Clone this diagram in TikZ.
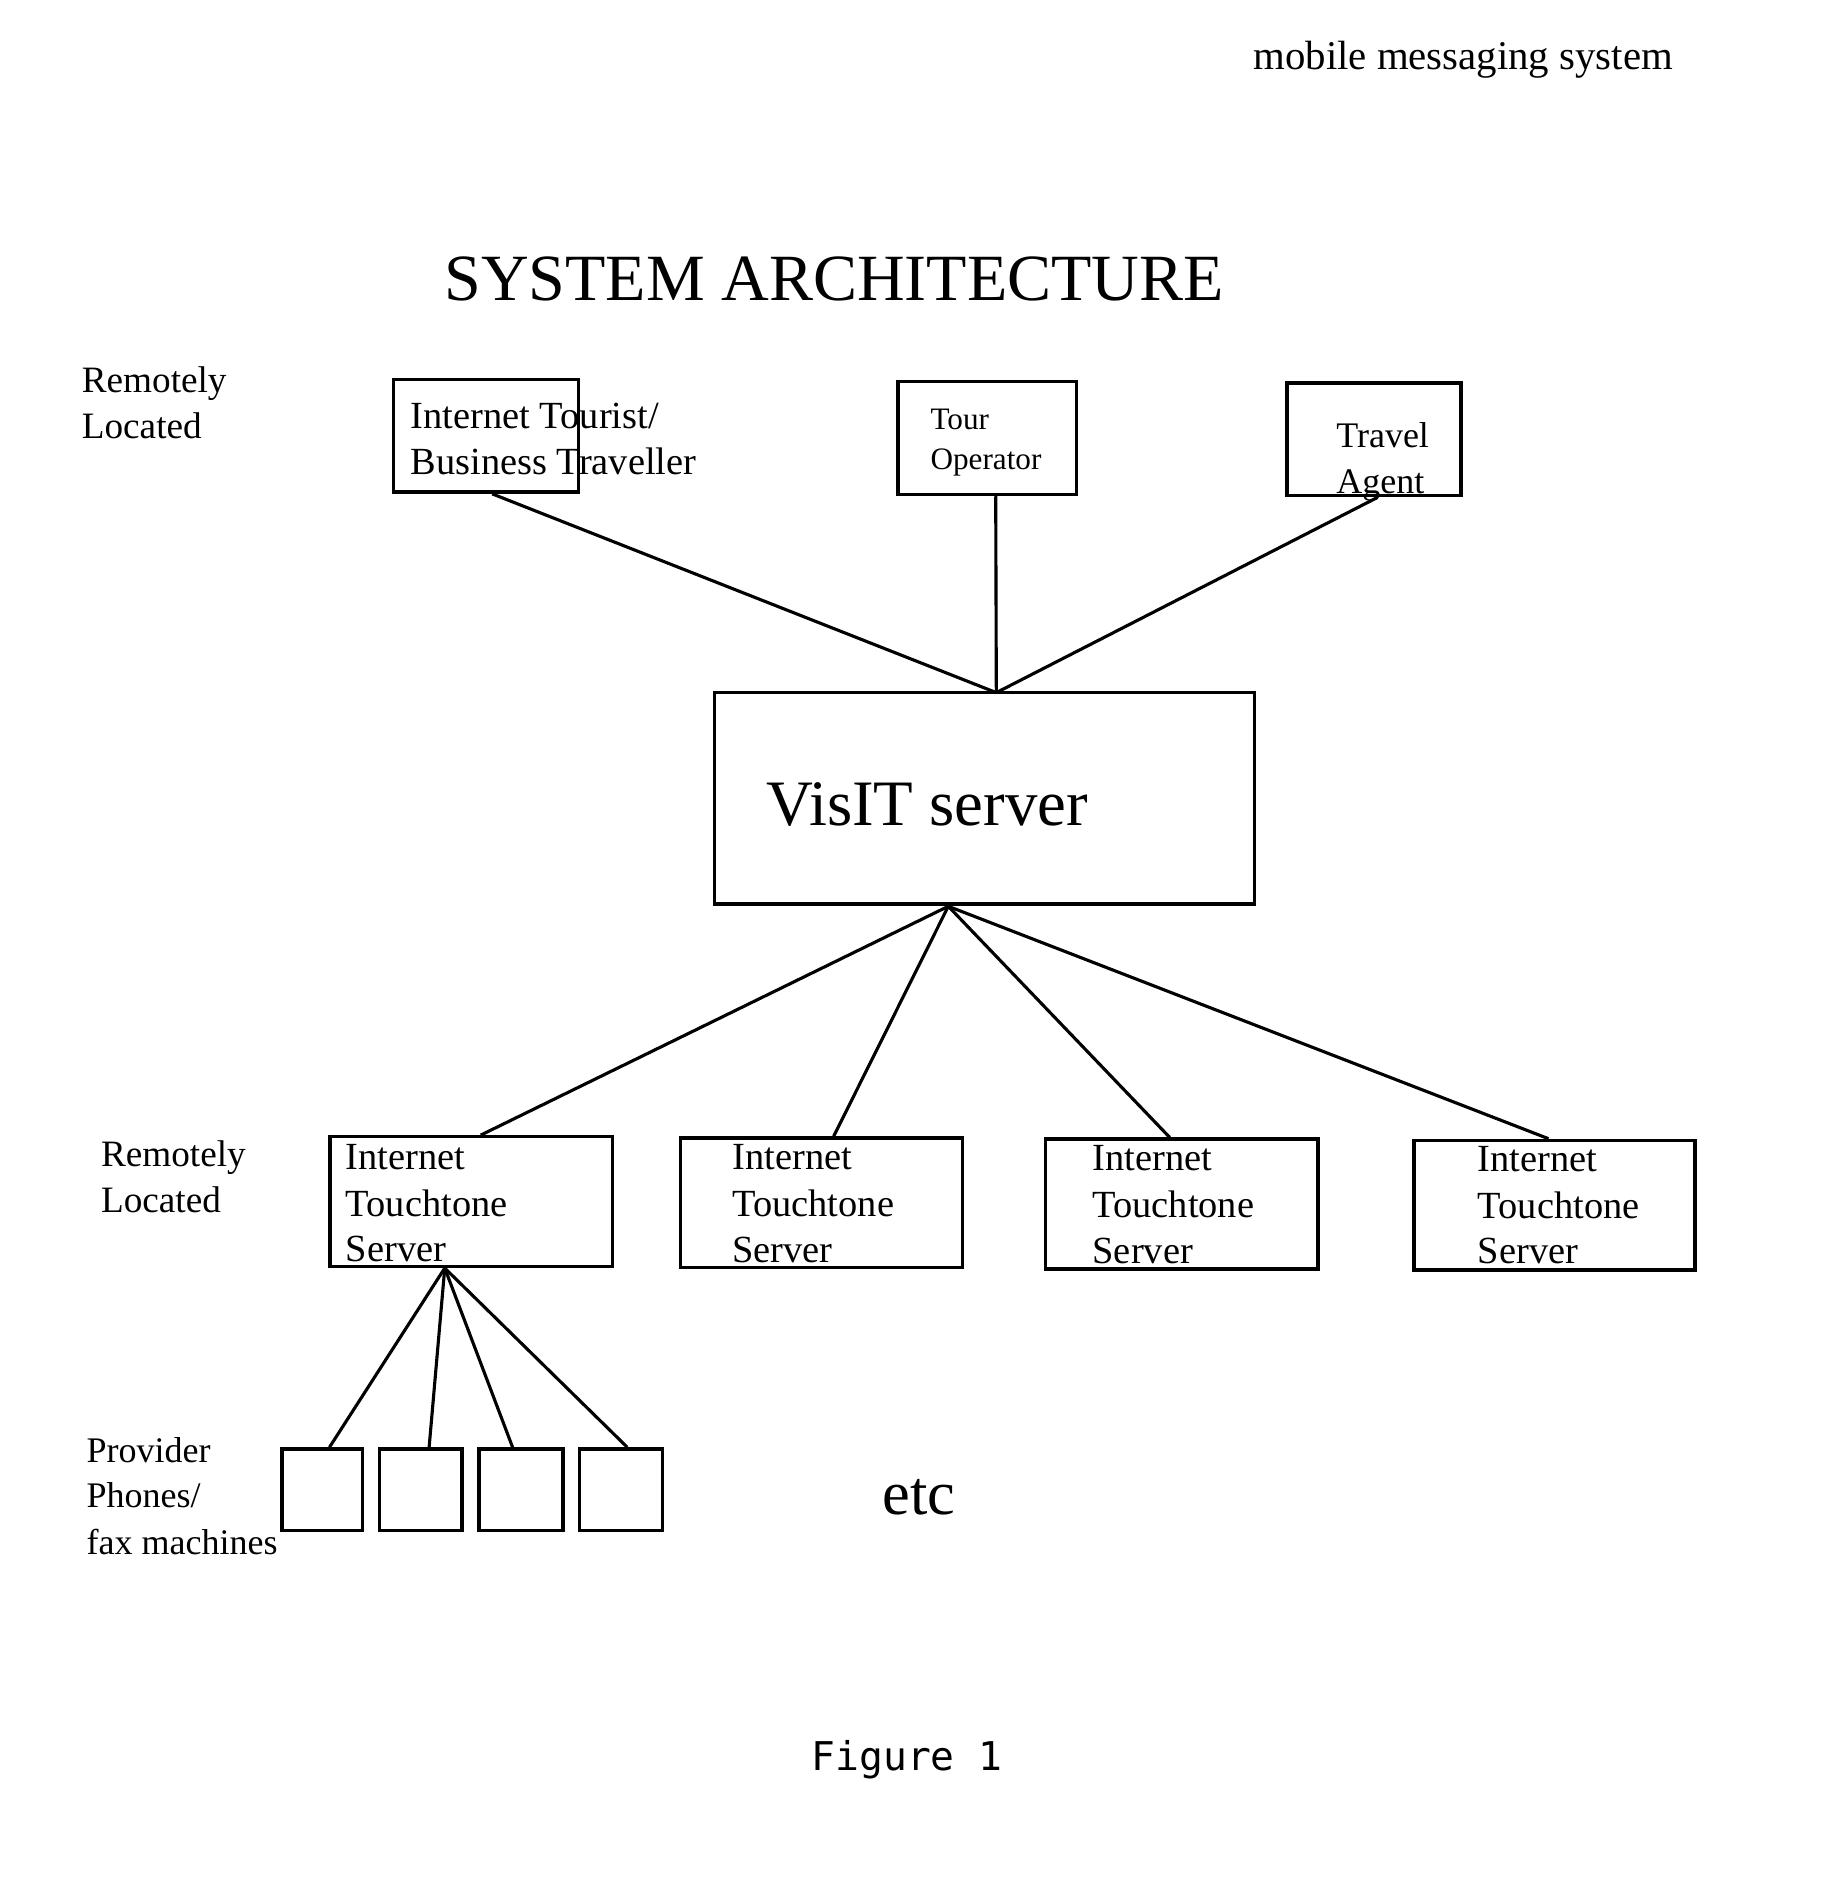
\documentclass[tikz,border=0pt]{standalone}
\usepackage{fontspec}
\setmainfont{Liberation Serif}
\newfontfamily\figmono{DejaVu Sans Mono}
\tikzset{
  box/.style={draw, line width=2.8pt, rectangle, inner sep=0pt},
  link/.style={line width=2.6pt},
  lbl/.style={anchor=base west, inner sep=0pt, font=\fontsize{32}{38}\selectfont},
}
\begin{document}
\begin{tikzpicture}[x=1pt, y=-1pt]
\useasboundingbox (0,0) rectangle (1520,1567);
% headings
\node[lbl, font=\fontsize{34}{40}\selectfont] (hdr) at (1044,58) {mobile messaging system};
\node[lbl, font=\fontsize{55}{60}\selectfont] (title) at (370,250) {SYSTEM ARCHITECTURE};
% left labels
\node[lbl, font=\fontsize{31}{36}\selectfont] (rl1a) at (68,327) {Remotely};
\node[lbl, font=\fontsize{31}{36}\selectfont] (rl1b) at (68,365) {Located};
\node[lbl, font=\fontsize{31}{36}\selectfont] (rl2a) at (84,972) {Remotely};
\node[lbl, font=\fontsize{31}{36}\selectfont] (rl2b) at (84,1010) {Located};
\node[lbl, font=\fontsize{30}{36}\selectfont] (pv1) at (72,1218) {Provider};
\node[lbl, font=\fontsize{30}{36}\selectfont] (pv2) at (72,1256) {Phones/};
\node[lbl, font=\fontsize{30}{36}\selectfont] (pv3) at (72,1295) {fax machines};
% top boxes
\node[box, minimum width=154, minimum height=94] (b1) at (405,363) {};
\node[lbl] (b1t1) at (342,357) {Internet Tourist/};
\node[lbl] (b1t2) at (342,395) {Business Traveller};
\node[box, minimum width=149, minimum height=94] (b2) at (822.5,365) {};
\node[lbl, font=\fontsize{26}{30}\selectfont] (b2t1) at (775,358) {Tour};
\node[lbl, font=\fontsize{26}{30}\selectfont] (b2t2) at (775,391) {Operator};
\node[box, minimum width=145, minimum height=94] (b3) at (1144.5,366) {};
\node[lbl, font=\fontsize{30}{36}\selectfont] (b3t1) at (1113,373) {Travel};
\node[lbl, font=\fontsize{30}{36}\selectfont] (b3t2) at (1113,411) {Agent};
% VisIT server
\node[box, minimum width=450, minimum height=176] (v) at (820,665) {};
\node[lbl, font=\fontsize{54}{60}\selectfont] (vt) at (638,688) {VisIT server};
\coordinate (vtop) at (830,577);
\coordinate (vbot) at (790,755);
% lower server boxes
\node[box, minimum width=235, minimum height=108] (s1) at (392.5,1001) {};
\node[box, minimum width=235, minimum height=108] (s2) at (684.5,1002) {};
\node[box, minimum width=227, minimum height=108] (s3) at (984.5,1003) {};
\node[box, minimum width=234, minimum height=108] (s4) at (1295,1004) {};
\foreach \n/\x/\d in {s1/288/0, s2/610/1, s3/910/2, s4/1231/3}{
  \node[lbl] (\n a) at (\x,974+\d*0.6) {Internet};
  \node[lbl] (\n b) at (\x,1013+\d*0.6) {Touchtone};
  \node[lbl] (\n c) at (\x,1051+\d*0.6) {Server};
}
% phones
\node[box, minimum width=67, minimum height=68] (p1) at (268.5,1241) {};
\node[box, minimum width=69, minimum height=68] (p2) at (350.5,1241) {};
\node[box, minimum width=70, minimum height=68] (p3) at (434,1241) {};
\node[box, minimum width=69, minimum height=68] (p4) at (517.5,1241) {};
\node[lbl, font=\fontsize{52}{58}\selectfont] (etc) at (735,1262) {etc};
\node[lbl, font=\figmono\fontsize{33}{38}\selectfont] (fig) at (676,1475) {Figure 1};
% connectors upper
\draw[link] ([xshift=5]b1.south) -- (vtop);
\draw[link] ([xshift=7]b2.south) -- (vtop);
\draw[link] ([xshift=3]b3.south) -- (vtop);
% connectors lower
\draw[link] (vbot) -- ([xshift=8]s1.north);
\draw[link] (vbot) -- ([xshift=10]s2.north);
\draw[link] (vbot) -- ([xshift=-10]s3.north);
\draw[link] (vbot) -- ([xshift=-5]s4.north);
% phone connectors
\coordinate (sp) at ([xshift=-22]s1.south);
\draw[link] (sp) -- ([xshift=6]p1.north);
\draw[link] (sp) -- ([xshift=7]p2.north);
\draw[link] (sp) -- ([xshift=-7]p3.north);
\draw[link] (sp) -- ([xshift=5]p4.north);
\end{tikzpicture}
\end{document}
